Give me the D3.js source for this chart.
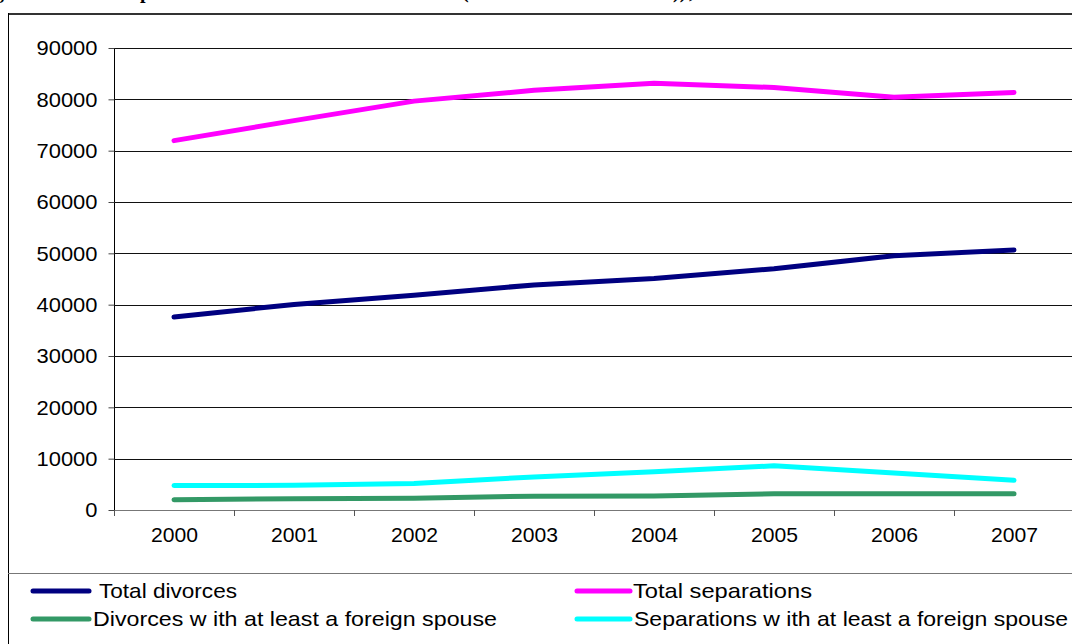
<!DOCTYPE html>
<html><head><meta charset="utf-8">
<script src="https://cdn.jsdelivr.net/npm/d3@7"></script>
<style>body{margin:0;background:#fff;overflow:hidden}svg{display:block}</style>
</head><body>
<script>
const years = ["2000","2001","2002","2003","2004","2005","2006","2007"];
const totalDivorces = [37600, 40050, 41850, 43850, 45100, 47000, 49550, 50650];
const totalSeparations = [71950, 75850, 79650, 81750, 83150, 82300, 80400, 81350];
const divorcesForeign = [2000, 2200, 2300, 2700, 2750, 3150, 3150, 3150];
const separationsForeign = [4750, 4800, 5150, 6450, 7450, 8600, 7200, 5800];
const yTicks = [0,10000,20000,30000,40000,50000,60000,70000,80000,90000];
const seriesNames = ["Total divorces","Total separations","Divorces w ith at least a foreign spouse","Separations w ith at least a foreign spouse"];
const seriesColors = ["#000080","#FF00FF","#339966","#00FFFF"];
const seriesData = [totalDivorces,totalSeparations,divorcesForeign,separationsForeign];

const W=1072,H=644;
const svg=d3.select("body").append("svg").attr("width",W).attr("height",H);
const font="Liberation Sans, Arial, sans-serif";

// title fragments (cut off at top)
const tf=svg.append("g").attr("font-family","Liberation Serif, Times New Roman, serif").attr("font-weight","bold").attr("font-size",20).attr("fill","#000");
[["g",-6],["p",140],["(",462],["))",673],[",",689]].forEach(([t,x])=>tf.append("text").attr("x",x).attr("y",-2).text(t));

// frame
svg.append("line").attr("x1",8).attr("x2",W).attr("y1",14).attr("y2",14).attr("stroke","#333").attr("stroke-width",2);
svg.append("line").attr("x1",8.5).attr("x2",8.5).attr("y1",13).attr("y2",H).attr("stroke","#000").attr("stroke-width",1);
svg.append("line").attr("x1",8).attr("x2",W).attr("y1",573.5).attr("y2",573.5).attr("stroke","#777").attr("stroke-width",1.2);

const x=d3.scalePoint().domain(years).range([114,1074]).padding(0.5);
const y=d3.scaleLinear().domain([0,90000]).range([510,48]);

// gridlines
svg.append("g").selectAll("line").data(yTicks.filter(d=>d>0)).join("line")
 .attr("x1",114).attr("x2",1074).attr("y1",d=>Math.round(y(d))+0.5).attr("y2",d=>Math.round(y(d))+0.5)
 .attr("stroke","#111").attr("stroke-width",1.2);

// y axis
const ya=svg.append("g").attr("transform","translate(114.5,0)")
 .call(d3.axisLeft(y).tickValues(yTicks).tickSize(6).tickFormat(d3.format("d")));
ya.select(".domain").attr("stroke","#000").attr("d","M0,48V516");
ya.selectAll(".tick line").attr("stroke","#444");
ya.selectAll(".tick text").attr("font-family",font).attr("font-size",21).attr("fill","#000").attr("x",-17)
 .attr("textLength",d=>String(d).length*12.2).attr("lengthAdjust","spacingAndGlyphs");

// x axis
const xa=svg.append("g").attr("transform","translate(0,510.5)")
 .call(d3.axisBottom(x).tickSize(0).tickPadding(17));
xa.select(".domain").attr("stroke","#777").attr("d","M114,0H1074");
xa.selectAll(".tick text").attr("font-family",font).attr("font-size",21).attr("fill","#000")
 .attr("textLength",47).attr("lengthAdjust","spacingAndGlyphs");
const bx=d3.range(0,9).map(i=>x.step()*i+114);
svg.append("g").selectAll("line").data(bx).join("line")
 .attr("x1",d=>Math.round(d)+0.5).attr("x2",d=>Math.round(d)+0.5).attr("y1",510).attr("y2",516).attr("stroke","#555");

// lines
const line=d3.line().x((d,i)=>x(years[i])).y(d=>y(d));
seriesData.forEach((s,k)=>{
 svg.append("path").datum(s).attr("d",line).attr("fill","none").attr("stroke",seriesColors[k])
  .attr("stroke-width",5).attr("stroke-linecap","round").attr("stroke-linejoin","round");
});

// legend
const lp=[{x1:33,x2:89,ty:591,tx:99,w:138},{x1:577,x2:630,ty:591,tx:633,w:179},{x1:33,x2:89,ty:619,tx:93,w:404},{x1:577,x2:630,ty:619,tx:634,w:434}];
seriesNames.forEach((n,k)=>{
 const p=lp[k];
 svg.append("line").attr("x1",p.x1).attr("x2",p.x2).attr("y1",p.ty).attr("y2",p.ty)
  .attr("stroke",seriesColors[k]).attr("stroke-width",5).attr("stroke-linecap","round");
 svg.append("text").attr("x",p.tx).attr("y",p.ty+7).attr("font-family",font).attr("font-size",21).attr("fill","#000")
  .attr("textLength",p.w).attr("lengthAdjust","spacingAndGlyphs").text(n);
});
</script>
</body></html>
